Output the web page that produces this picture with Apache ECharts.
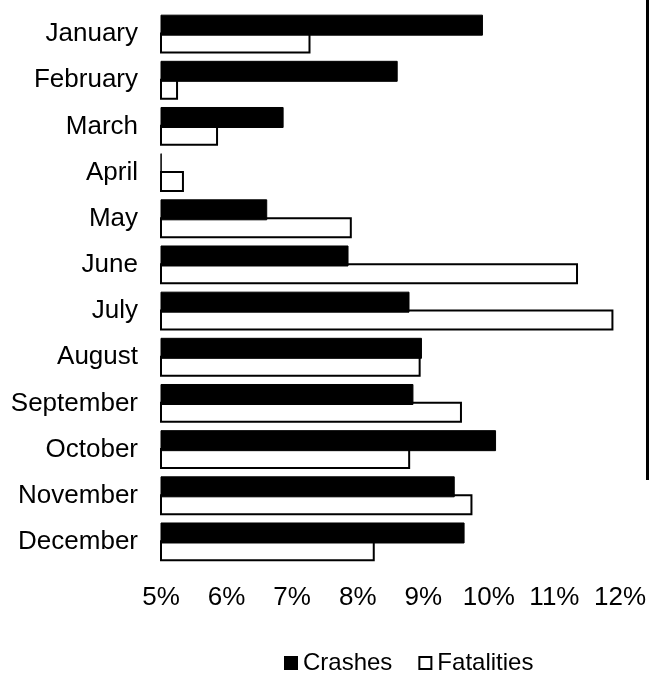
<!DOCTYPE html>
<html>
<head>
<meta charset="utf-8">
<script src="https://cdn.jsdelivr.net/npm/echarts@6/dist/echarts.min.js"></script>
<style>
  html, body { margin: 0; padding: 0; background: #fff; }
  #chart { width: 649px; height: 674px; }
</style>
</head>
<body>
<div id="chart"></div>
<script>
// monthly share of the year's total, in percent
const months = ['January', 'February', 'March', 'April', 'May', 'June',
  'July', 'August', 'September', 'October', 'November', 'December'];
const crashes = [9.91, 8.61, 6.87, 5.01, 6.62, 7.86, 8.79, 8.98, 8.85, 10.11, 9.48, 9.63];
const fatalities = [7.28, 5.26, 5.87, 5.35, 7.91, 11.36, 11.9, 8.96, 9.59, 8.8, 9.75, 8.26];

const chart = echarts.init(document.getElementById('chart'));
const font = 'Liberation Sans, Arial, sans-serif';

chart.setOption({
  animation: false,
  grid: { left: 161, right: 28, top: 11, bottom: 109 },
  legend: {
    top: 646,
    left: 279,
    itemWidth: 12,
    itemHeight: 12,
    itemGap: 26,
    icon: 'rect',
    textStyle: { fontFamily: font, fontSize: 24, color: '#000', padding: [0, 0, 0, 1] },
    data: ['Crashes', 'Fatalities']
  },
  xAxis: {
    type: 'value',
    min: 5,
    max: 12,
    interval: 1,
    axisLine: { show: false },
    axisTick: { show: false },
    splitLine: { show: false },
    axisLabel: {
      formatter: '{value}%',
      fontFamily: font,
      fontSize: 26,
      color: '#000',
      margin: 20
    }
  },
  yAxis: {
    type: 'category',
    inverse: true,
    data: months,
    axisLine: { show: false },
    axisTick: { show: false },
    axisLabel: { fontFamily: font, fontSize: 26, color: '#000', margin: 23 }
  },
  series: [
    {
      name: 'Crashes',
      type: 'bar',
      data: crashes,
      barWidth: 21,
      barGap: '-15%',
      z: 3,
      itemStyle: { color: '#000', borderColor: '#000', borderWidth: 1 }
    },
    {
      name: 'Fatalities',
      type: 'bar',
      data: fatalities,
      barWidth: 21,
      z: 2,
      itemStyle: { color: '#fff', borderColor: '#000', borderWidth: 2 }
    }
  ],
  graphic: [
    { type: 'rect', left: 646, top: 0, shape: { width: 3, height: 480 }, style: { fill: '#000' } }
  ]
});
</script>
</body>
</html>
